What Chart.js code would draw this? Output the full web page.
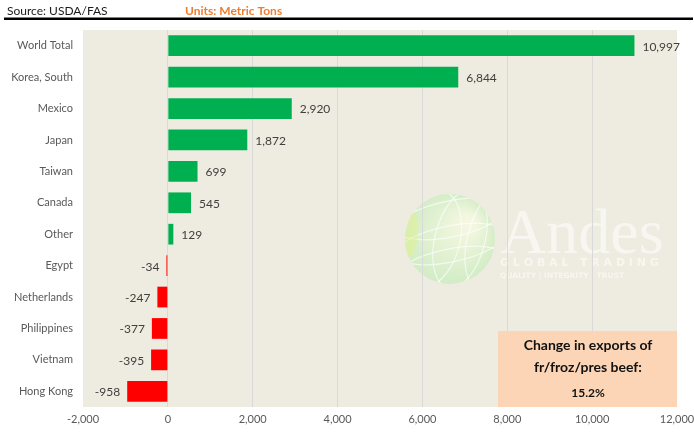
<!DOCTYPE html>
<html>
<head>
<meta charset="utf-8">
<script src="https://cdn.jsdelivr.net/npm/chart.js@4/dist/chart.umd.min.js"></script>
<style>
  html, body { margin: 0; padding: 0; background: #fff; }
  #wrap { width: 694px; height: 433px; position: relative; }
</style>
</head>
<body>
<div id="wrap"><canvas id="canvas" width="694" height="433"></canvas></div>
<script>
// beef export change by destination, metric tons
var countries = ['World Total', 'Korea, South', 'Mexico', 'Japan', 'Taiwan', 'Canada', 'Other',
                 'Egypt', 'Netherlands', 'Philippines', 'Vietnam', 'Hong Kong'];
var change = [10997, 6844, 2920, 1872, 699, 545, 129, -34, -247, -377, -395, -958];
var xTicks = [-2000, 0, 2000, 4000, 6000, 8000, 10000, 12000];

var sourceText = 'Source: USDA/FAS';
var unitsText = 'Units: Metric Tons';
var noteLines = ['Change in exports of', 'fr/froz/pres beef:', '15.2%'];

var FONT = 'Lato, "Open Sans", sans-serif';
var fmt = function(v) { return v.toLocaleString('en-US'); };

var background = {
  id: 'background',
  beforeDraw: function(chart) {
    var ctx = chart.ctx, a = chart.chartArea;
    ctx.save();
    ctx.fillStyle = '#fff';
    ctx.fillRect(0, 0, chart.width, chart.height);
    ctx.fillStyle = '#EEEBE0';
    ctx.fillRect(a.left, a.top, a.right - a.left, a.bottom - a.top);

    // header
    ctx.fillStyle = '#1a1a1a';
    ctx.font = '12px ' + FONT;
    ctx.textBaseline = 'alphabetic';
    ctx.fillText(sourceText, 7, 15);
    ctx.fillStyle = '#ED7D31';
    ctx.font = 'bold 12px ' + FONT;
    ctx.fillText(unitsText, 185, 15);
    ctx.fillStyle = '#000';
    ctx.fillRect(4, 17.5, 689, 2.5);

    // faint logo behind the bars
    ctx.save();
    ctx.globalAlpha = 0.8;
    ctx.beginPath();
    ctx.arc(450, 239, 45, 0, Math.PI * 2);
    var g = ctx.createRadialGradient(470, 222, 5, 450, 239, 48);
    g.addColorStop(0, 'rgba(248,252,225,0.9)');
    g.addColorStop(1, 'rgba(196,236,186,0.9)');
    ctx.fillStyle = g;
    ctx.fill();
    ctx.clip();
    ctx.strokeStyle = 'rgba(255,255,255,0.8)';
    ctx.lineWidth = 1.2;
    [[-20, 60], [10, 50], [40, 45]].forEach(function(m) {
      ctx.beginPath();
      ctx.ellipse(450 + m[0], 239, m[1] / 2, 50, 0.25, 0, Math.PI * 2);
      ctx.stroke();
    });
    [-20, 5, 28].forEach(function(dy) {
      ctx.beginPath();
      ctx.ellipse(450, 239 + dy, 55, 18, -0.2, 0, Math.PI * 2);
      ctx.stroke();
    });
    ctx.restore();
    ctx.save();
    ctx.globalAlpha = 0.8;
    ctx.beginPath();
    ctx.fillStyle = 'rgba(225,240,150,0.7)';
    ctx.ellipse(412, 235, 6, 22, 0.1, 0, Math.PI * 2);
    ctx.fill();

    ctx.fillStyle = 'rgba(255,255,255,0.7)';
    ctx.font = '64px "Liberation Serif", serif';
    ctx.textBaseline = 'alphabetic';
    ctx.fillText('Andes', 500, 253);
    ctx.font = 'bold 11px "DejaVu Sans", sans-serif';
    ctx.fillText('G L O B A L   T R A D I N G', 500, 266);
    ctx.font = 'bold 7.5px "DejaVu Sans", sans-serif';
    ctx.fillText('QUALITY | INTEGRITY | TRUST', 500, 278);
    ctx.restore();
    ctx.restore();
  }
};

var overlay = {
  id: 'overlay',
  afterDatasetsDraw: function(chart) {
    var ctx = chart.ctx;
    var meta = chart.getDatasetMeta(0);
    ctx.save();
    ctx.font = '12px ' + FONT;
    ctx.fillStyle = '#404040';
    ctx.textBaseline = 'middle';
    meta.data.forEach(function(bar, i) {
      var v = change[i];
      if (v >= 0) {
        ctx.textAlign = 'left';
        ctx.fillText(fmt(v), bar.x + 8, bar.y + 1);
      } else {
        ctx.textAlign = 'right';
        ctx.fillText(fmt(v), bar.x - 7, bar.y + 1);
      }
    });

    // note box
    ctx.fillStyle = '#FBD5B5';
    ctx.fillRect(498, 331, 179, 76);
    ctx.fillStyle = '#111';
    ctx.textAlign = 'center';
    ctx.font = 'bold 14px ' + FONT;
    ctx.fillText(noteLines[0], 588, 345);
    ctx.fillText(noteLines[1], 588, 367);
    ctx.font = 'bold 12px ' + FONT;
    ctx.fillText(noteLines[2], 588, 393);
    ctx.restore();
  }
};

var ctx = document.getElementById('canvas').getContext('2d');
window.myBar = new Chart(ctx, {
  type: 'bar',
  data: {
    labels: countries,
    datasets: [{
      data: change,
      backgroundColor: change.map(function(v) { return v >= 0 ? '#00B050' : '#FF0000'; }),
      barPercentage: 0.66,
      categoryPercentage: 1
    }]
  },
  options: {
    indexAxis: 'y',
    responsive: false,
    animation: false,
    layout: { padding: { top: 30, right: 17, left: 0, bottom: 0 } },
    plugins: { legend: { display: false }, tooltip: { enabled: false } },
    scales: {
      x: {
        min: -2000,
        max: 12000,
        afterBuildTicks: function(s) { s.ticks = xTicks.map(function(v) { return { value: v }; }); },
        afterFit: function(s) { s.height = 26; s.paddingLeft = 0; s.paddingRight = 0; },
        border: { display: false },
        grid: {
          drawTicks: false,
          color: function(c) {
            var v = c.tick && c.tick.value;
            return (v === -2000 || v === 12000) ? 'rgba(0,0,0,0)' : '#D9D9D9';
          }
        },
        ticks: {
          padding: 6,
          color: '#595959',
          font: { family: FONT, size: 11 },
          callback: function(v) { return fmt(v); }
        }
      },
      y: {
        afterFit: function(s) { s.width = 83; s.paddingTop = 0; s.paddingBottom = 0; },
        border: { display: false },
        grid: { display: false, drawTicks: false },
        ticks: {
          padding: 10,
          color: '#595959',
          font: { family: FONT, size: 11 }
        }
      }
    }
  },
  plugins: [background, overlay]
});
</script>
</body>
</html>
